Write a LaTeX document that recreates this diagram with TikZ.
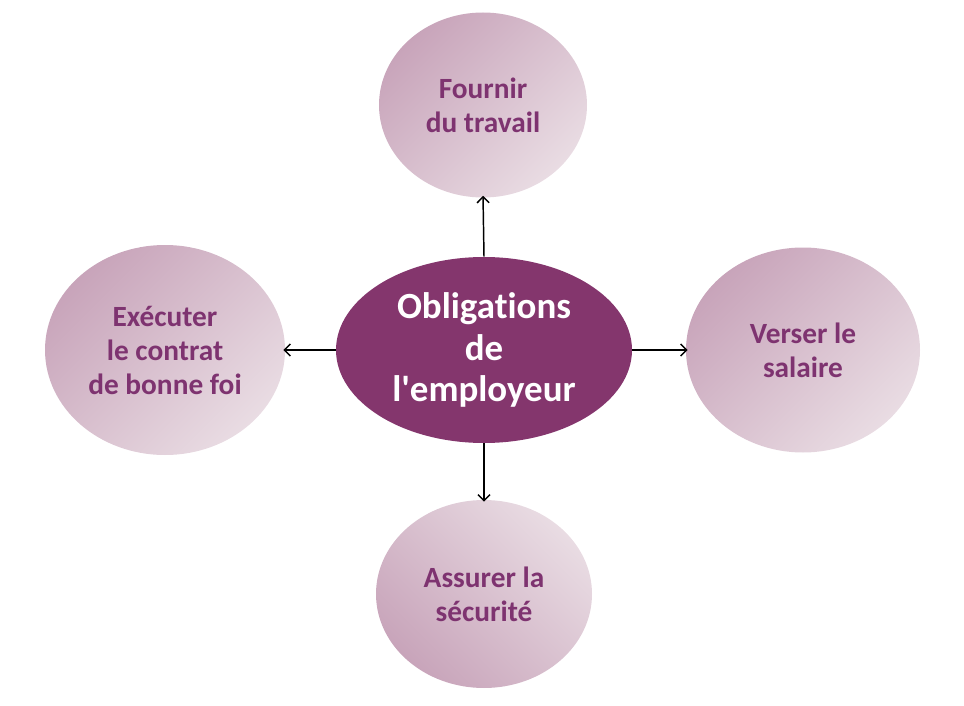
\documentclass[tikz,border=0pt]{standalone}
\usepackage{fontspec}
\setmainfont{Carlito}[Ligatures={NoCommon}]
\usetikzlibrary{shapes.geometric,arrows.meta}
\definecolor{plum}{HTML}{84366D}
\definecolor{txtplum}{HTML}{7E3370}
\definecolor{satdark}{HTML}{C8A4BA}
\definecolor{satlight}{HTML}{E9DCE3}
\tikzset{
  sat/.style={ellipse, inner sep=0pt, align=center, text=txtplum,
    font=\bfseries\fontsize{22}{25.5}\selectfont},
  satTL/.style={sat, top color=satdark, bottom color=satlight, shading angle=45},
  satBL/.style={sat, top color=satlight, bottom color=satdark, shading angle=-45},
  hub/.style={ellipse, inner sep=0pt, align=center, fill=plum, text=white,
    font=\bfseries\fontsize{27.7}{30.8}\selectfont},
  link/.style={line width=1.1pt, -{Straight Barb[length=4.5pt,width=9pt]}}
}
\begin{document}
\begin{tikzpicture}[x=0.75pt,y=-0.75pt]
\useasboundingbox (0,0) rectangle (964,706);
\node[hub, minimum width=296*0.75pt, minimum height=186*0.75pt] (c) at (484,350) {Obligations\\de\\l\textquotesingle employeur};
\node[satTL, minimum width=208*0.75pt, minimum height=185*0.75pt] (t) at (483,105) {Fournir\\du travail};
\node[satTL, minimum width=240*0.75pt, minimum height=210*0.75pt] (l) at (165,350) {Exécuter\\le contrat\\de bonne foi};
\node[satTL, minimum width=234*0.75pt, minimum height=205*0.75pt] (r) at (803,350) {Verser le\\salaire};
\node[satBL, minimum width=216*0.75pt, minimum height=188*0.75pt] (b) at (484,594) {Assurer la\\sécurité};
\draw[link] (c.north) -- ([yshift=1.5pt]t.south);
\draw[link] (c.south) -- ([yshift=-1.5pt]b.north);
\draw[link] (c.west) -- ([xshift=-1.5pt]l.east);
\draw[link] (c.east) -- ([xshift=1.5pt]r.west);
\end{tikzpicture}
\end{document}
